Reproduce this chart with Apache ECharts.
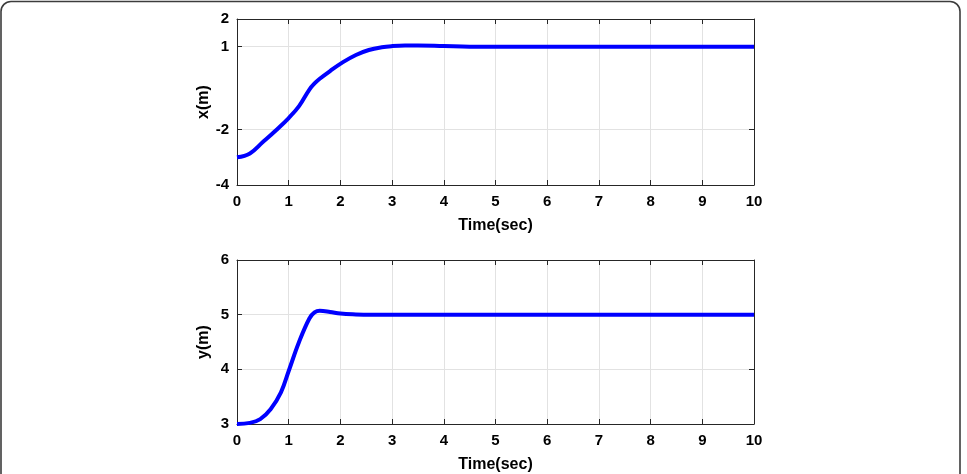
<!DOCTYPE html>
<html>
<head>
<meta charset="utf-8">
<script src="https://cdn.jsdelivr.net/npm/echarts@6/dist/echarts.min.js"></script>
<style>
  html, body { margin: 0; padding: 0; background: #fff; }
  #chart { width: 967px; height: 474px; }
</style>
</head>
<body>
<div id="chart"></div>
<script>
// x(m) trace
const xTime = [0, 0.25, 0.5, 0.75, 1.0, 1.2, 1.4, 1.5, 1.6, 1.8, 2.05, 2.3, 2.55, 2.8, 3.0, 3.25, 3.5, 4.0, 4.5, 5, 6, 7, 8, 9, 10]
const xPos  = [-3.0, -2.86, -2.45, -2.03, -1.58, -1.15, -0.55, -0.33, -0.16, 0.12, 0.44, 0.7, 0.88, 0.98, 1.02, 1.04, 1.04, 1.02, 1.0, 1.0, 1.0, 1.0, 1.0, 1.0, 1.0]
// y(m) trace, lower panel
const yTime = [0, 0.25, 0.45, 0.65, 0.85, 1.0, 1.2, 1.4, 1.5, 1.6, 1.8, 2.0, 2.3, 2.6, 3, 4, 5, 6, 7, 8, 9, 10]
const yPos  = [3.0, 3.02, 3.09, 3.27, 3.58, 3.97, 4.5, 4.93, 5.04, 5.07, 5.05, 5.02, 5.005, 5.0, 5.0, 5.0, 5.0, 5.0, 5.0, 5.0, 5.0, 5.0]
const xPosTicks = [-4, -2, 1, 2]
const yPosTicks = [3, 4, 5, 6]

const FONT = '"Liberation Sans", Arial, sans-serif'
const INK = '#262626'
const GRIDC = '#e2e2e2'

const chart = echarts.init(document.getElementById('chart'))

function timeAxis(grid, pos) {
  const main = pos === 'bottom'
  return {
    type: 'value', gridIndex: grid, position: pos, min: 0, max: 10, interval: 1,
    name: main ? 'Time(sec)' : '', nameLocation: 'middle', nameGap: 33, nameMoveOverlap: false,
    nameTextStyle: { color: '#000', fontFamily: FONT, fontWeight: 'bold', fontSize: 16 },
    axisLine: { show: true, onZero: false, lineStyle: { color: INK, width: 1 } },
    axisTick: { show: true, inside: true, length: 5, lineStyle: { color: INK } },
    axisLabel: { show: main, color: '#000', fontFamily: FONT, fontWeight: 'bold', fontSize: 15, margin: 9 },
    splitLine: { show: main, lineStyle: { color: GRIDC, width: 1 } }
  }
}

function valueAxis(grid, pos, min, max, ticks, name) {
  const main = pos === 'left'
  return {
    type: 'value', gridIndex: grid, position: pos, min: min, max: max, interval: 1,
    name: main ? name : '', nameLocation: 'middle', nameGap: 25, nameMoveOverlap: false,
    nameTextStyle: { color: '#000', fontFamily: FONT, fontWeight: 'bold', fontSize: 16 },
    axisLine: { show: true, onZero: false, lineStyle: { color: INK, width: 1 } },
    axisTick: { show: true, inside: true, length: 5, customValues: ticks, lineStyle: { color: INK } },
    axisLabel: { show: main, customValues: ticks, color: '#000', fontFamily: FONT, fontWeight: 'bold', fontSize: 15, margin: 8 },
    splitLine: { show: main, lineStyle: { color: GRIDC, width: 1 } }
  }
}

chart.setOption({
  animation: false,
  backgroundColor: '#fff',
  graphic: [{
    type: 'rect', silent: true, z: -1,
    shape: { x: 1, y: 1.5, width: 959, height: 500, r: 10 },
    style: { fill: 'none', stroke: '#3c3c3c', lineWidth: 1.6 }
  }],
  grid: [
    { left: 237, top: 19, width: 517, height: 166 },
    { left: 237, top: 260, width: 517, height: 168 }
  ],
  xAxis: [
    timeAxis(0, 'bottom'), timeAxis(0, 'top'),
    timeAxis(1, 'bottom'), timeAxis(1, 'top')
  ],
  yAxis: [
    valueAxis(0, 'left', -4, 2, xPosTicks, 'x(m)'), valueAxis(0, 'right', -4, 2, xPosTicks),
    valueAxis(1, 'left', 3, 6, yPosTicks, 'y(m)'), valueAxis(1, 'right', 3, 6, yPosTicks)
  ],
  series: [
    {
      type: 'line', xAxisIndex: 0, yAxisIndex: 0, smooth: 0.4, symbol: 'none', clip: false,
      data: xTime.map((t, i) => [t, xPos[i]]),
      lineStyle: { color: '#0000ff', width: 4 }
    },
    {
      type: 'line', xAxisIndex: 2, yAxisIndex: 2, smooth: 0.4, symbol: 'none', clip: false,
      data: yTime.map((t, i) => [t, yPos[i]]),
      lineStyle: { color: '#0000ff', width: 4 }
    }
  ]
})
</script>
</body>
</html>
